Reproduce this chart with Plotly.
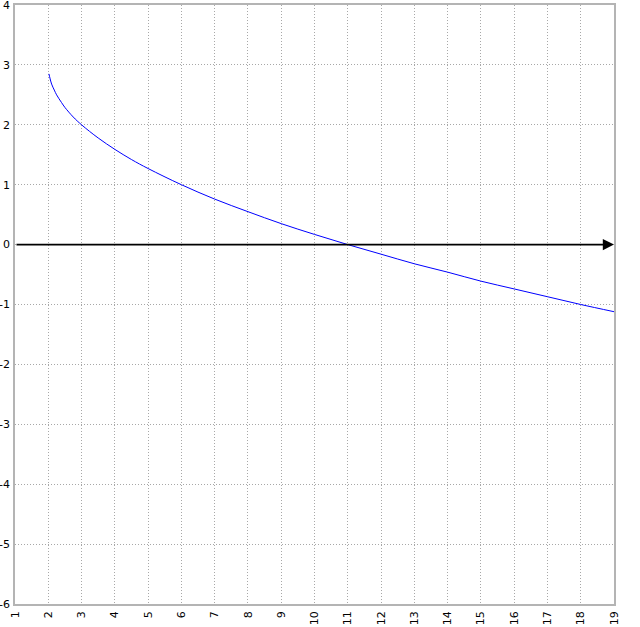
import plotly.graph_objects as go

x_vals = [2.02, 2.05, 2.1, 2.18, 2.25, 2.4, 2.5, 2.75, 3, 3.5, 4, 4.5, 5, 6, 7, 8, 9, 10, 11, 12, 13, 14, 15, 16, 17, 18, 19]
y_vals = [2.85, 2.78, 2.68, 2.58, 2.5, 2.37, 2.29, 2.13, 2.0, 1.78, 1.59, 1.42, 1.27, 1.0, 0.76, 0.55, 0.35, 0.17, 0.0, -0.16, -0.32, -0.46, -0.61, -0.74, -0.87, -1.0, -1.12]
x_ticks = list(range(1, 20))
y_ticks = list(range(-6, 5))

fig = go.Figure()
fig.add_trace(go.Scatter(x=x_vals, y=y_vals, mode="lines",
                         line=dict(color="#0000ff", width=1, shape="spline"),
                         hoverinfo="skip", showlegend=False))

fig.add_annotation(x=19, y=0, ax=1, ay=0, xref="x", yref="y", axref="x", ayref="y",
                   showarrow=True, arrowhead=2, arrowsize=1.4, arrowwidth=1.6,
                   arrowcolor="#000000", text="")

axis_common = dict(showgrid=True, gridcolor="#a8a8a8", griddash="1px,2px", gridwidth=1,
                   showline=True, linecolor="#b4b4b4", linewidth=1.5, mirror=True,
                   zeroline=False, ticks="", automargin=False, ticklabeloverflow="allow",
                   tickfont=dict(family="DejaVu Sans", size=11, color="#000000"))

fig.update_xaxes(range=[1, 19], tickvals=x_ticks, ticktext=[str(v) for v in x_ticks],
                 tickangle=-90, ticklabelstandoff=1, **axis_common)
fig.update_yaxes(range=[-6, 4], tickvals=y_ticks, ticktext=[str(v) for v in y_ticks],
                 ticklabelstandoff=1, **axis_common)

fig.update_layout(width=640, height=627, margin=dict(l=15, r=26, t=5, b=23, autoexpand=False),
                  plot_bgcolor="#ffffff", paper_bgcolor="#ffffff")

fig.write_html("out.html", config={"displayModeBar": False},
               post_script="document.body.style.margin='0px';")
